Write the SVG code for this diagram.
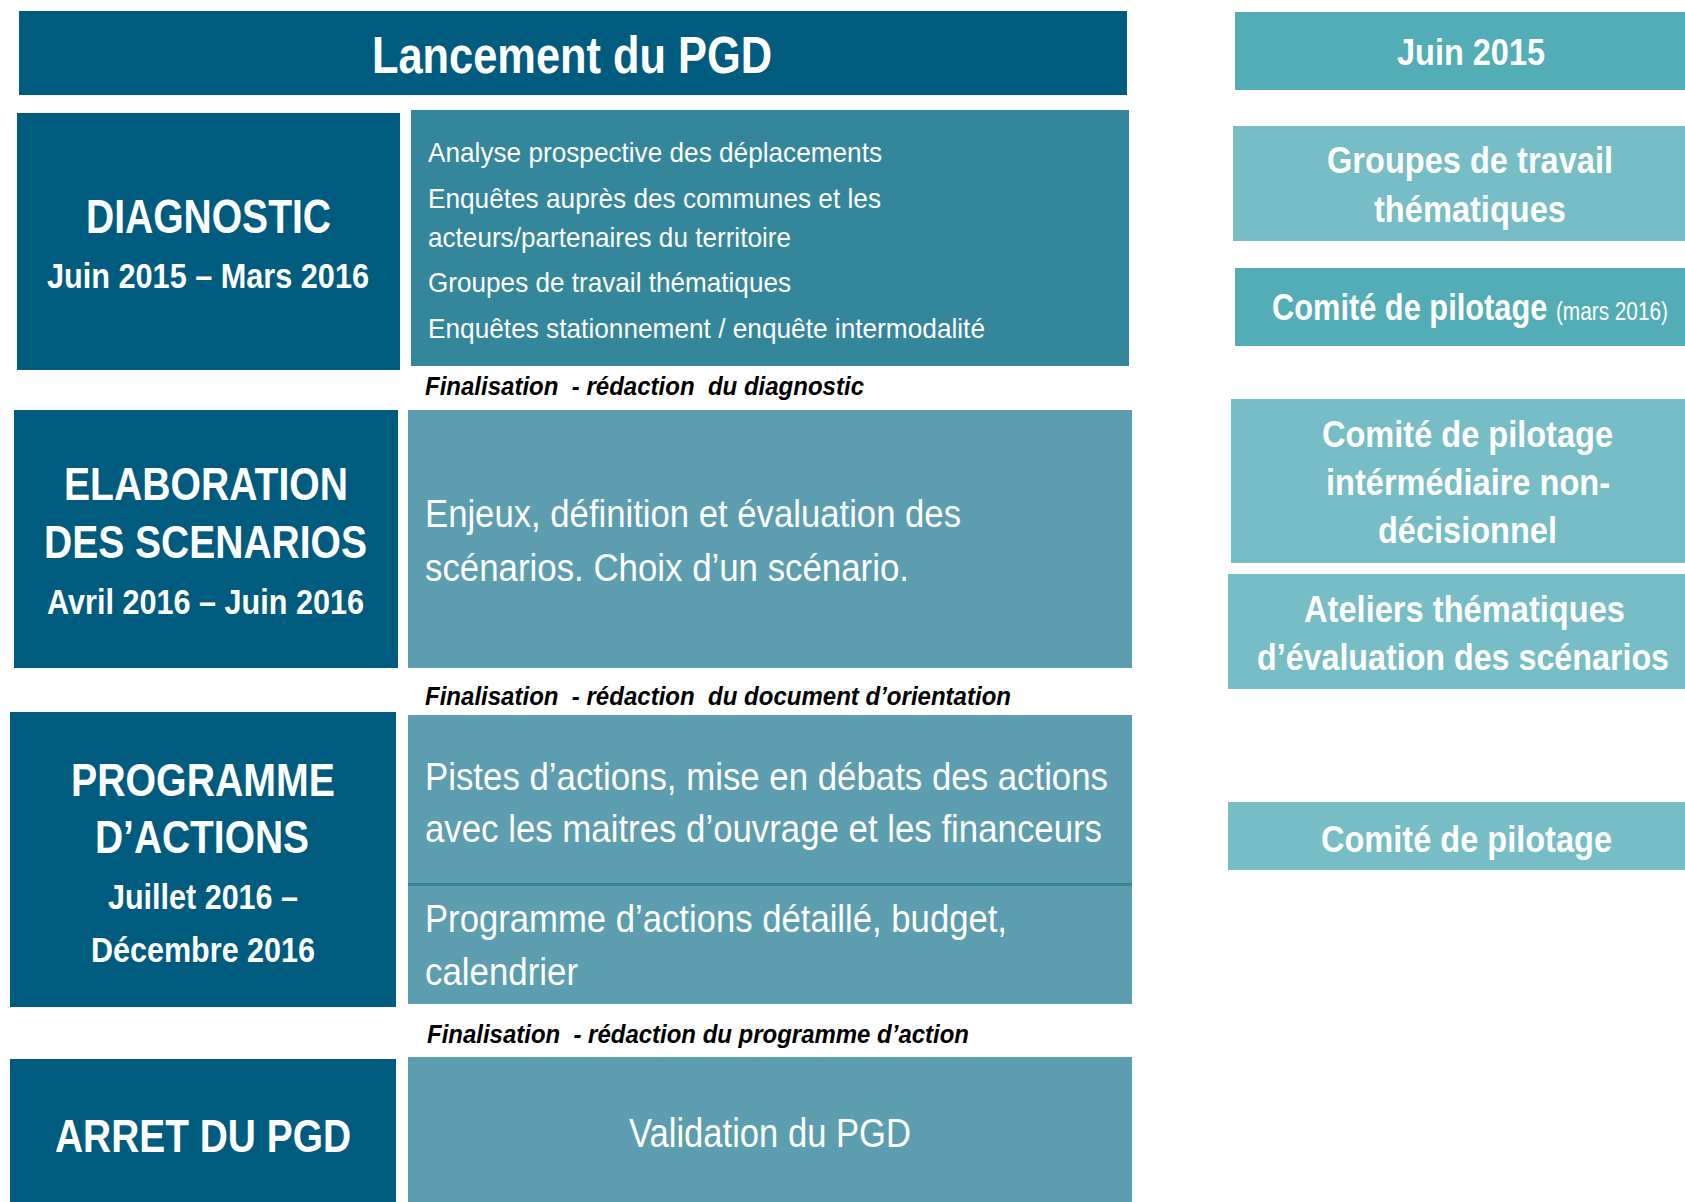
<svg xmlns="http://www.w3.org/2000/svg" width="1685" height="1202" viewBox="0 0 1685 1202">
<style>
.dark{fill:#005C7E}
.mid{fill:#34869B}
.soft{fill:#5C9EAF}
.rdark{fill:#53ADB6}
.rlight{fill:#76BDC5}
text{font-family:"Liberation Sans",Arial,sans-serif;fill:#FFFFFF}
.b{font-weight:bold}
.fin{font-weight:bold;font-style:italic;fill:#000000;font-size:25px}
</style>
<rect width="1685" height="1202" fill="#FFFFFF"/>
<g id="lancement">
<rect class="dark" x="19" y="11" width="1108" height="84"/>
<text class="b" x="372" y="73" font-size="52" textLength="400" lengthAdjust="spacingAndGlyphs">Lancement du PGD</text>
</g>
<g id="diagnostic">
<rect class="dark" x="17" y="113" width="383" height="257"/>
<text class="b" x="86" y="233" font-size="49" textLength="245" lengthAdjust="spacingAndGlyphs">DIAGNOSTIC</text>
<text class="b" x="47" y="288" font-size="35" textLength="322" lengthAdjust="spacingAndGlyphs">Juin 2015 – Mars 2016</text>
</g>
<g id="diagnostic-content">
<rect class="mid" x="411" y="110" width="718" height="256"/>
<text x="428" y="162" font-size="28" textLength="454" lengthAdjust="spacingAndGlyphs">Analyse prospective des déplacements</text>
<text x="428" y="208" font-size="28" textLength="453" lengthAdjust="spacingAndGlyphs">Enquêtes auprès des communes et les</text>
<text x="428" y="247" font-size="28" textLength="363" lengthAdjust="spacingAndGlyphs">acteurs/partenaires du territoire</text>
<text x="428" y="292" font-size="28" textLength="363" lengthAdjust="spacingAndGlyphs">Groupes de travail thématiques</text>
<text x="428" y="338" font-size="28" textLength="557" lengthAdjust="spacingAndGlyphs">Enquêtes stationnement / enquête intermodalité</text>
</g>
<g id="fin-diagnostic">
<text class="fin" xml:space="preserve" x="425" y="395" textLength="439" lengthAdjust="spacingAndGlyphs">Finalisation  - rédaction  du diagnostic</text>
</g>
<g id="elaboration">
<rect class="dark" x="14" y="410" width="384" height="258"/>
<text class="b" x="64" y="500" font-size="47" textLength="284" lengthAdjust="spacingAndGlyphs">ELABORATION</text>
<text class="b" x="44" y="558" font-size="47" textLength="323" lengthAdjust="spacingAndGlyphs">DES SCENARIOS</text>
<text class="b" x="47" y="614" font-size="35" textLength="317" lengthAdjust="spacingAndGlyphs">Avril 2016 – Juin 2016</text>
</g>
<g id="elaboration-content">
<rect class="soft" x="408" y="410" width="724" height="258"/>
<text x="425" y="527" font-size="38" textLength="536" lengthAdjust="spacingAndGlyphs">Enjeux, définition et évaluation des</text>
<text x="425" y="581" font-size="38" textLength="484" lengthAdjust="spacingAndGlyphs">scénarios. Choix d’un scénario.</text>
</g>
<g id="fin-orientation">
<text class="fin" xml:space="preserve" x="425" y="705" textLength="586" lengthAdjust="spacingAndGlyphs">Finalisation  - rédaction  du document d’orientation</text>
</g>
<g id="programme">
<rect class="dark" x="10" y="712" width="386" height="295"/>
<text class="b" x="71" y="796" font-size="47" textLength="264" lengthAdjust="spacingAndGlyphs">PROGRAMME</text>
<text class="b" x="95" y="853" font-size="47" textLength="214" lengthAdjust="spacingAndGlyphs">D’ACTIONS</text>
<text class="b" x="108" y="909" font-size="35" textLength="190" lengthAdjust="spacingAndGlyphs">Juillet 2016 –</text>
<text class="b" x="91" y="962" font-size="35" textLength="224" lengthAdjust="spacingAndGlyphs">Décembre 2016</text>
</g>
<g id="programme-content">
<rect class="soft" x="408" y="715" width="724" height="168"/>
<rect class="mid" x="408" y="883" width="724" height="3"/>
<rect class="soft" x="408" y="886" width="724" height="118"/>
<text x="425" y="790" font-size="39" textLength="683" lengthAdjust="spacingAndGlyphs">Pistes d’actions, mise en débats des actions</text>
<text x="425" y="842" font-size="39" textLength="677" lengthAdjust="spacingAndGlyphs">avec les maitres d’ouvrage et les financeurs</text>
<text x="425" y="932" font-size="39" textLength="582" lengthAdjust="spacingAndGlyphs">Programme d’actions détaillé, budget,</text>
<text x="425" y="985" font-size="39" textLength="153" lengthAdjust="spacingAndGlyphs">calendrier</text>
</g>
<g id="fin-programme">
<text class="fin" xml:space="preserve" x="427" y="1043" textLength="542" lengthAdjust="spacingAndGlyphs">Finalisation  - rédaction du programme d’action</text>
</g>
<g id="arret">
<rect class="dark" x="10" y="1059" width="386" height="143"/>
<text class="b" x="55" y="1152" font-size="47" textLength="296" lengthAdjust="spacingAndGlyphs">ARRET DU PGD</text>
</g>
<g id="arret-content">
<rect class="soft" x="408" y="1057" width="724" height="145"/>
<text x="629" y="1147" font-size="40" textLength="282" lengthAdjust="spacingAndGlyphs">Validation du PGD</text>
</g>
<g id="r-juin">
<rect class="rdark" x="1235" y="12" width="450" height="78"/>
<text class="b" x="1397" y="65" font-size="37" textLength="148" lengthAdjust="spacingAndGlyphs">Juin 2015</text>
</g>
<g id="r-groupes">
<rect class="rlight" x="1233" y="126" width="452" height="115"/>
<text class="b" x="1327" y="173" font-size="37" textLength="286" lengthAdjust="spacingAndGlyphs">Groupes de travail</text>
<text class="b" x="1374" y="222" font-size="37" textLength="192" lengthAdjust="spacingAndGlyphs">thématiques</text>
</g>
<g id="r-copil-mars">
<rect class="rdark" x="1235" y="268" width="450" height="78"/>
<text class="b" x="1272" y="320" font-size="37" textLength="396" lengthAdjust="spacingAndGlyphs">Comité de pilotage <tspan font-weight="normal" font-size="25">(mars 2016)</tspan></text>
</g>
<g id="r-copil-inter">
<rect class="rlight" x="1231" y="399" width="454" height="164"/>
<text class="b" x="1322" y="447" font-size="37" textLength="291" lengthAdjust="spacingAndGlyphs">Comité de pilotage</text>
<text class="b" x="1326" y="495" font-size="37" textLength="284" lengthAdjust="spacingAndGlyphs">intérmédiaire non-</text>
<text class="b" x="1378" y="543" font-size="37" textLength="179" lengthAdjust="spacingAndGlyphs">décisionnel</text>
</g>
<g id="r-ateliers">
<rect class="rlight" x="1228" y="574" width="457" height="115"/>
<text class="b" x="1304" y="622" font-size="37" textLength="321" lengthAdjust="spacingAndGlyphs">Ateliers thématiques</text>
<text class="b" x="1257" y="670" font-size="37" textLength="412" lengthAdjust="spacingAndGlyphs">d’évaluation des scénarios</text>
</g>
<g id="r-copil">
<rect class="rlight" x="1228" y="802" width="457" height="68"/>
<text class="b" x="1321" y="852" font-size="37" textLength="291" lengthAdjust="spacingAndGlyphs">Comité de pilotage</text>
</g>
<g id="connectors"/>
</svg>
